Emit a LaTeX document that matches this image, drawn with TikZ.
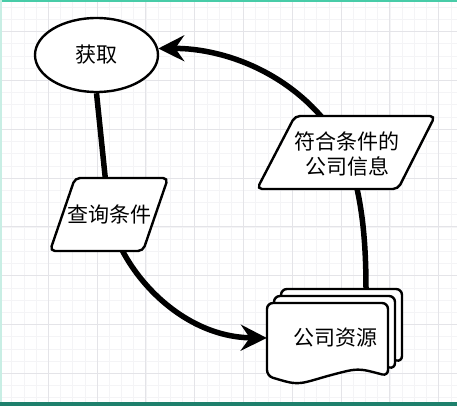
\documentclass[tikz,border=0pt]{standalone}
\usepackage{fontspec}
\newfontfamily\cjk{Noto Sans CJK SC}
\usetikzlibrary{arrows.meta,shapes.geometric,backgrounds}
\definecolor{gridMinor}{RGB}{244,244,246}
\definecolor{gridMajor}{RGB}{228,228,232}
\definecolor{barTop}{RGB}{72,204,168}
\definecolor{barBot}{RGB}{30,128,108}
\definecolor{barSide}{RGB}{200,238,228}

\begin{document}
\begin{tikzpicture}[
  x=1pt, y=-1pt,
  font=\cjk\fontsize{21}{25}\selectfont,
  >={Stealth[length=26pt, width=26pt, inset=9pt]},
  term/.style={ellipse, draw=black, line width=2.4pt, fill=white, minimum width=123pt, minimum height=74pt, inner sep=1pt},
  io/.style={draw=black, line width=2.4pt, fill=white, rounded corners=5pt},
  page/.style={draw=black, line width=2.4pt, fill=white, rounded corners=6pt},
  lbl/.style={inner sep=2pt, align=center},
  flow/.style={draw=black, line width=5.5pt},
  gridln/.style={draw=gridMinor, line width=0.8pt},
  gridmaj/.style={draw=gridMajor, line width=1pt}
]
\useasboundingbox (0,0) rectangle (457,406);

% ---------------- CANVAS ----------------
\begin{scope}[on background layer]
  \fill[white] (0,0) rectangle (457,406);
  \foreach \k in {0,...,37} \draw[gridln] (11.7+12.2*\k,0) -- ++(0,406);
  \foreach \k in {0,...,32} \draw[gridln] (0,7.3+12.2*\k) -- ++(457,0);
  \foreach \k in {0,...,8} \draw[gridmaj] (48.3+48.8*\k,0) -- ++(0,406);
  \foreach \k in {0,...,7} \draw[gridmaj] (0,31.7+48.8*\k) -- ++(457,0);
  \fill[barTop] (0,0) rectangle (457,2.5);
  \fill[barSide] (0,0) rectangle (1.5,406);
  \fill[barBot] (0,402) rectangle (457,406);
\end{scope}

% ---------------- SHAPES ----------------
\foreach \o in {14,7,0}
  \draw[page] (388+\o,376-\o) .. controls (358+\o,368-\o) .. (327.5+\o,376-\o)
    .. controls (297+\o,385-\o) .. (267+\o,376-\o) -- (267+\o,303-\o) -- (388+\o,303-\o) -- cycle;
\draw[io] (50,251) -- (75,178) -- (168,178) -- (143,251) -- cycle;
\draw[io] (257,189) -- (295,116) -- (435,116) -- (398,189) -- cycle;

% ---------------- NODES ----------------
\node (get) at (96.5,55) [term] {获取};
\node (query) at (109,214) [lbl] {查询条件};
\node (info) at (347,154) [lbl] {符合条件的\\公司信息};
\node (res) at (335,338) [lbl, minimum width=136pt, minimum height=80pt] {公司资源};
\coordinate (resTop) at (366,289);

% ---------------- FLOW ----------------
\begin{scope}[on background layer]
  \draw[flow] (get.south) -- (query.center);
  \draw[flow,->] (query.center) .. controls (120,270) and (180,337) .. (res.west);
  \draw[flow] (resTop) .. controls (366,230) and (360,190) .. (info.center);
  \draw[flow,->] (info.center) .. controls (305,75) and (225,48) .. (get.6);
\end{scope}

\end{tikzpicture}
\end{document}
